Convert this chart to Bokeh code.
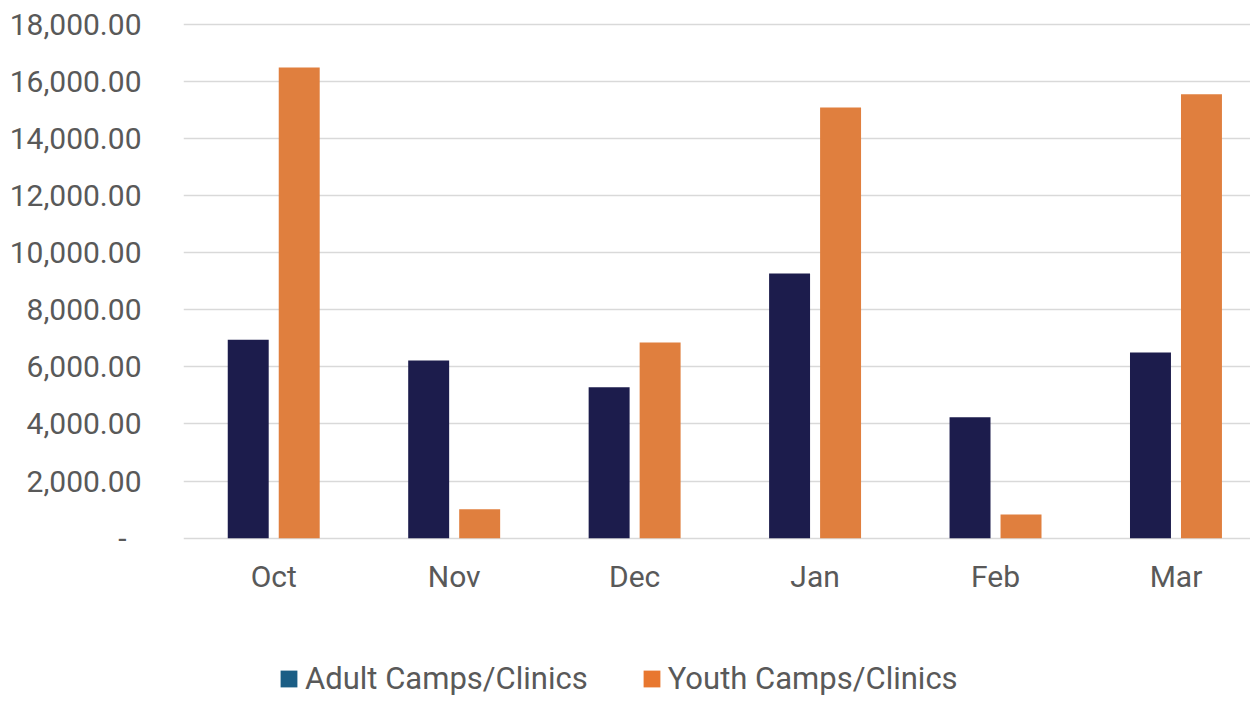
from bokeh.plotting import figure
from bokeh.models import (FixedTicker, NumeralTickFormatter, Range1d, Legend, LegendItem,
                          ColumnDataSource)
from bokeh.embed import file_html
from bokeh.resources import INLINE
import numpy as np

months = ["Oct", "Nov", "Dec", "Jan", "Feb", "Mar"]
adult = [6950, 6220, 5280, 9270, 4230, 6500]
youth = [16480, 1010, 6850, 15080, 830, 15540]
series_names = ["Adult Camps/Clinics", "Youth Camps/Clinics"]
y_ticks = list(range(0, 18001, 2000))

FONT = "Roboto"
TXT = "#595959"
ADULT_BAR = "#1C1C4C"
YOUTH_BAR = "#E07F3E"
ADULT_KEY = "#1B5E85"
YOUTH_KEY = "#E8772F"

idx = np.arange(len(months))
off = 0.1413
bw = 0.227

# frame covers the whole lower area so the legend can sit inside it
p = figure(width=1250, height=696, output_backend="svg", toolbar_location=None,
           x_range=Range1d(-0.5, 5.413), y_range=Range1d(-5545, 18126),
           min_border_left=183, min_border_right=0, min_border_top=20,
           min_border_bottom=0)
p.outline_line_color = None
p.background_fill_color = "white"
p.border_fill_color = "white"

src = ColumnDataSource(dict(xa=idx - off, xy=idx + off, adult=adult, youth=youth))
p.vbar(x="xa", top="adult", width=bw, source=src, fill_color=ADULT_BAR, line_color=None)
p.vbar(x="xy", top="youth", width=bw, source=src, fill_color=YOUTH_BAR, line_color=None)

# grid
p.xgrid.grid_line_color = None
p.ygrid.grid_line_color = "#D9D9D9"
p.ygrid.grid_line_width = 1.6
p.ygrid.ticker = FixedTicker(ticks=y_ticks)

# y axis
p.yaxis.ticker = FixedTicker(ticks=y_ticks)
p.yaxis.formatter = NumeralTickFormatter(format="0,0.00")
p.yaxis.major_label_overrides = {0: "-\u00a0\u00a0"}
p.yaxis.axis_line_color = None
p.yaxis.major_tick_line_color = None
p.yaxis.minor_tick_line_color = None
p.yaxis.major_label_text_font = FONT
p.yaxis.major_label_text_font_size = "30px"
p.yaxis.major_label_text_color = TXT
p.yaxis.major_label_standoff = 36

# x axis drawn at y = 0
p.xaxis.fixed_location = 0
p.xaxis.ticker = FixedTicker(ticks=list(idx))
p.xaxis.major_label_overrides = {int(i): m for i, m in zip(idx, months)}
p.xaxis.axis_line_color = None
p.xaxis.major_tick_line_color = None
p.xaxis.minor_tick_line_color = None
p.xaxis.major_label_text_font = FONT
p.xaxis.major_label_text_font_size = "30px"
p.xaxis.major_label_text_color = TXT
p.xaxis.major_label_standoff = 15

# legend with its own key swatches (dummy renderers that draw nothing in the plot)
key_src = ColumnDataSource(dict(x=[np.nan], top=[np.nan]))
ka = p.vbar(x="x", top="top", width=bw, source=key_src, fill_color=ADULT_KEY, line_color=None)
ky = p.vbar(x="x", top="top", width=bw, source=key_src, fill_color=YOUTH_KEY, line_color=None)
legend = Legend(items=[LegendItem(label=series_names[0], renderers=[ka]),
                       LegendItem(label=series_names[1], renderers=[ky])],
                orientation="horizontal", location=(95, -1),
                glyph_width=21, glyph_height=21, label_standoff=6, spacing=53,
                padding=0, margin=0, border_line_color=None,
                background_fill_alpha=0,
                label_text_font=FONT, label_text_font_size="31px",
                label_text_color=TXT)
p.add_layout(legend, "center")

open("out.html", "w").write(file_html(p, INLINE))
